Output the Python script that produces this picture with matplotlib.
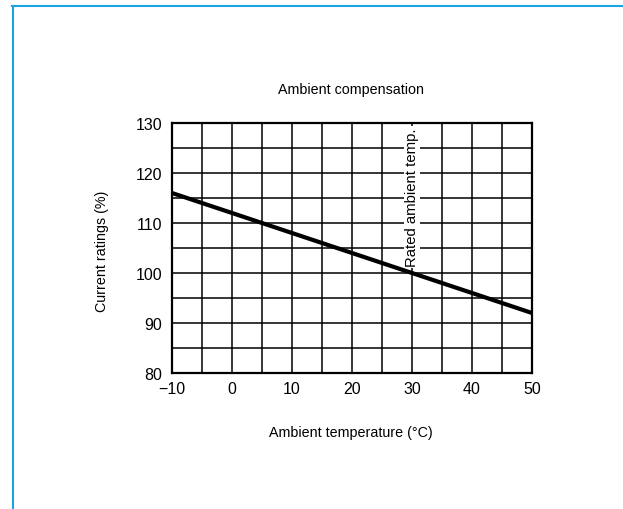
import matplotlib.pyplot as plt
from matplotlib.lines import Line2D
import numpy as np

plt.rcParams['font.family'] = ['Liberation Sans', 'DejaVu Sans']

# data
temp = [-10, 50]
rating = [116, 92]
rated_temp = 30
xticks = [-10, 0, 10, 20, 30, 40, 50]
yticks = [80, 90, 100, 110, 120, 130]

fig = plt.figure(figsize=(6.23, 5.10), dpi=100)
W, H = 623, 510
ax = fig.add_axes([172 / W, 1 - 374 / H, 360 / W, 250 / H])

ax.set_xlim(-10, 50)
ax.set_ylim(80, 130)
ax.set_xticks(xticks)
ax.set_xticklabels(['\u221210'] + [str(t) for t in xticks[1:]])
ax.set_yticks(yticks)
ax.set_xticks(np.arange(-5, 50, 10), minor=True)
ax.set_yticks(np.arange(85, 130, 10), minor=True)
ax.grid(True, which='both', color='black', linewidth=1.1)
ax.tick_params(which='both', length=0, labelsize=11.5)
ax.tick_params(axis='x', pad=6)
ax.tick_params(axis='y', pad=7)
for s in ax.spines.values():
    s.set_linewidth(1.6)

ax.plot(temp, rating, color='black', linewidth=3, solid_capstyle='butt', zorder=3)

ax.text(rated_temp, 115.2, 'Rated ambient temp.', rotation=90, ha='center', va='center',
        fontsize=10.7, bbox=dict(facecolor='white', edgecolor='none', pad=1.0), zorder=4)

fig.text(351 / W, 1 - 90 / H, 'Ambient compensation', ha='center', va='center', fontsize=10.3)
fig.text(351 / W, 1 - 433 / H, 'Ambient temperature (\u00b0C)', ha='center', va='center',
         fontsize=10.3)
fig.text(102 / W, 1 - 251 / H, 'Current ratings (%)', ha='center', va='center',
         rotation=90, fontsize=10.3)

# blue frame
blue = '#1ba3e3'
fig.add_artist(Line2D([13 / W, 13 / W], [0, 1 - 7 / H], color=blue, linewidth=1.5,
                      transform=fig.transFigure))
fig.add_artist(Line2D([12 / W, 1], [1 - 7 / H, 1 - 7 / H], color=blue, linewidth=1.5,
                      transform=fig.transFigure))

fig.savefig('out.png', dpi=100)
